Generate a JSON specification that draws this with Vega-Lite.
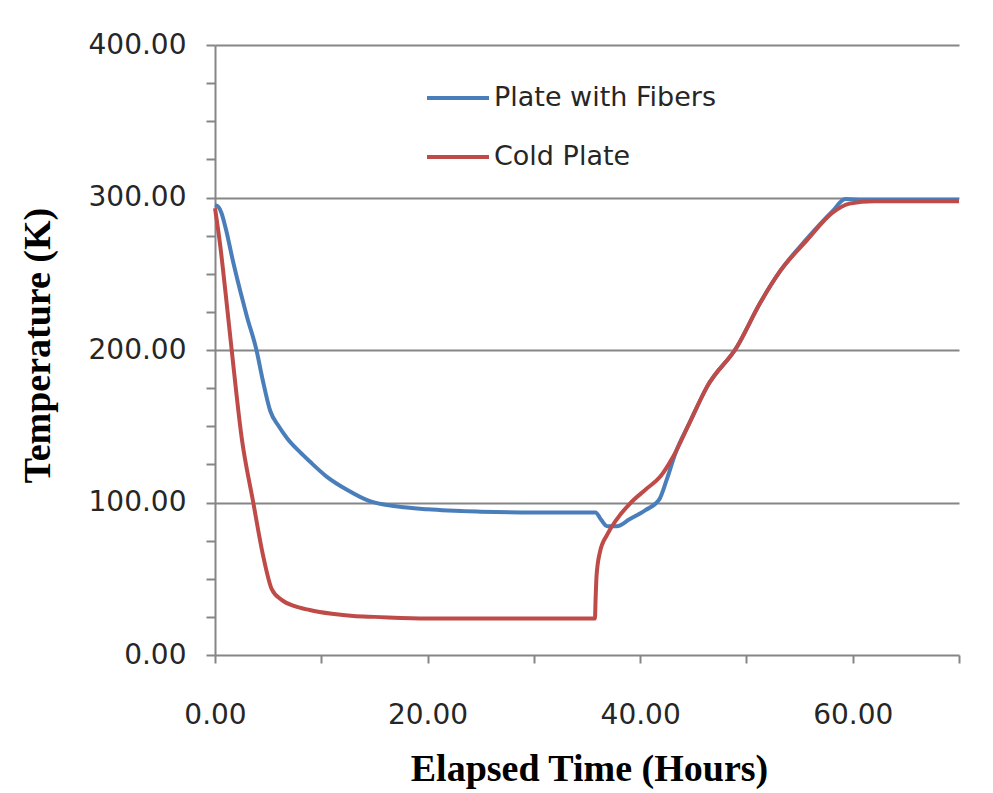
{
  "$schema": "https://vega.github.io/schema/vega-lite/v6.json",
  "width": 744,
  "height": 610,
  "autosize": {"type": "none"},
  "padding": {"left": 215, "top": 45, "right": 34, "bottom": 138},
  "background": "white",
  "data": {
    "values": [
      {"series": "Plate with Fibers", "t": 0, "temp": 295},
      {"series": "Plate with Fibers", "t": 0.3, "temp": 294},
      {"series": "Plate with Fibers", "t": 0.6, "temp": 290},
      {"series": "Plate with Fibers", "t": 1.0, "temp": 280},
      {"series": "Plate with Fibers", "t": 1.7, "temp": 258},
      {"series": "Plate with Fibers", "t": 2.4, "temp": 238},
      {"series": "Plate with Fibers", "t": 3.0, "temp": 222},
      {"series": "Plate with Fibers", "t": 3.9, "temp": 200},
      {"series": "Plate with Fibers", "t": 4.5, "temp": 180},
      {"series": "Plate with Fibers", "t": 5.2, "temp": 160},
      {"series": "Plate with Fibers", "t": 6.0, "temp": 150},
      {"series": "Plate with Fibers", "t": 6.8, "temp": 142},
      {"series": "Plate with Fibers", "t": 8.0, "temp": 133},
      {"series": "Plate with Fibers", "t": 8.9, "temp": 127},
      {"series": "Plate with Fibers", "t": 10.5, "temp": 117},
      {"series": "Plate with Fibers", "t": 12.5, "temp": 108},
      {"series": "Plate with Fibers", "t": 14.5, "temp": 101},
      {"series": "Plate with Fibers", "t": 17, "temp": 97.5},
      {"series": "Plate with Fibers", "t": 20, "temp": 95.5},
      {"series": "Plate with Fibers", "t": 25, "temp": 94},
      {"series": "Plate with Fibers", "t": 30, "temp": 93.5},
      {"series": "Plate with Fibers", "t": 35.8, "temp": 93.5},
      {"series": "Plate with Fibers", "t": 36.3, "temp": 89},
      {"series": "Plate with Fibers", "t": 36.9, "temp": 84.5},
      {"series": "Plate with Fibers", "t": 37.8, "temp": 84.5},
      {"series": "Plate with Fibers", "t": 39, "temp": 89},
      {"series": "Plate with Fibers", "t": 40.5, "temp": 95},
      {"series": "Plate with Fibers", "t": 41.8, "temp": 102},
      {"series": "Plate with Fibers", "t": 42.5, "temp": 115},
      {"series": "Plate with Fibers", "t": 43.3, "temp": 132},
      {"series": "Plate with Fibers", "t": 44.7, "temp": 153},
      {"series": "Plate with Fibers", "t": 46.3, "temp": 176},
      {"series": "Plate with Fibers", "t": 49.1, "temp": 202},
      {"series": "Plate with Fibers", "t": 51.3, "temp": 231},
      {"series": "Plate with Fibers", "t": 53.2, "temp": 252},
      {"series": "Plate with Fibers", "t": 55.7, "temp": 273},
      {"series": "Plate with Fibers", "t": 58.1, "temp": 291},
      {"series": "Plate with Fibers", "t": 59.3, "temp": 299},
      {"series": "Plate with Fibers", "t": 61, "temp": 298.5},
      {"series": "Plate with Fibers", "t": 70, "temp": 298.5},
      {"series": "Cold Plate", "t": 0, "temp": 293},
      {"series": "Cold Plate", "t": 0.5, "temp": 268},
      {"series": "Cold Plate", "t": 1.0, "temp": 237},
      {"series": "Cold Plate", "t": 1.57, "temp": 200},
      {"series": "Cold Plate", "t": 2.5, "temp": 143},
      {"series": "Cold Plate", "t": 3.6, "temp": 100},
      {"series": "Cold Plate", "t": 4.5, "temp": 66},
      {"series": "Cold Plate", "t": 5.35, "temp": 43},
      {"series": "Cold Plate", "t": 6.3, "temp": 36},
      {"series": "Cold Plate", "t": 7.5, "temp": 32},
      {"series": "Cold Plate", "t": 8.9, "temp": 29.5},
      {"series": "Cold Plate", "t": 11, "temp": 27},
      {"series": "Cold Plate", "t": 13, "temp": 25.5},
      {"series": "Cold Plate", "t": 15, "temp": 25},
      {"series": "Cold Plate", "t": 20, "temp": 24},
      {"series": "Cold Plate", "t": 27, "temp": 24},
      {"series": "Cold Plate", "t": 35.75, "temp": 24},
      {"series": "Cold Plate", "t": 35.8, "temp": 35},
      {"series": "Cold Plate", "t": 35.9, "temp": 52},
      {"series": "Cold Plate", "t": 36.2, "temp": 67},
      {"series": "Cold Plate", "t": 36.9, "temp": 79},
      {"series": "Cold Plate", "t": 37.8, "temp": 89},
      {"series": "Cold Plate", "t": 39, "temp": 99},
      {"series": "Cold Plate", "t": 40.6, "temp": 109},
      {"series": "Cold Plate", "t": 41.9, "temp": 117},
      {"series": "Cold Plate", "t": 43.1, "temp": 130},
      {"series": "Cold Plate", "t": 44.7, "temp": 153},
      {"series": "Cold Plate", "t": 46.3, "temp": 176},
      {"series": "Cold Plate", "t": 49.1, "temp": 202},
      {"series": "Cold Plate", "t": 51.3, "temp": 231},
      {"series": "Cold Plate", "t": 53.2, "temp": 252},
      {"series": "Cold Plate", "t": 55.7, "temp": 272},
      {"series": "Cold Plate", "t": 58.1, "temp": 290},
      {"series": "Cold Plate", "t": 59.7, "temp": 296},
      {"series": "Cold Plate", "t": 62, "temp": 297.5},
      {"series": "Cold Plate", "t": 70, "temp": 297.5}
    ]
  },
  "encoding": {
    "x": {
      "field": "t",
      "type": "quantitative",
      "scale": {"domain": [0, 70], "nice": false, "zero": false},
      "axis": {
        "title": "Elapsed Time (Hours)",
        "values": [0, 10, 20, 30, 40, 50, 60, 70],
        "labelExpr": "datum.value % 20 == 0 ? format(datum.value, '.2f') : ''",
        "grid": false,
        "domainColor": "#868686",
        "domainWidth": 2,
        "tickColor": "#868686",
        "tickWidth": 2,
        "tickSize": 8,
        "labelPadding": 38,
        "labelFont": "DejaVu Sans",
        "labelFontSize": 28,
        "labelColor": "#262626",
        "labelFlush": false,
        "labelOverlap": false,
        "titleFont": "Liberation Serif",
        "titleFontWeight": "bold",
        "titleFontSize": 38,
        "titleColor": "#000000",
        "titleX": 374,
        "titleY": 125,
        "titleAlign": "center",
        "titleBaseline": "alphabetic"
      }
    },
    "y": {
      "field": "temp",
      "type": "quantitative",
      "scale": {"domain": [0, 400], "nice": false},
      "axis": {
        "title": "Temperature (K)",
        "values": [0, 25, 50, 75, 100, 125, 150, 175, 200, 225, 250, 275, 300, 325, 350, 375, 400],
        "labelExpr": "datum.value % 100 == 0 ? format(datum.value, '.2f') : ''",
        "grid": true,
        "gridColor": "#868686",
        "gridWidth": 2,
        "gridOpacity": {"condition": {"test": "datum.value % 100 != 0 || datum.value == 0", "value": 0}, "value": 1},
        "domainColor": "#868686",
        "domainWidth": 2,
        "tickColor": "#868686",
        "tickWidth": 2,
        "tickSize": 9,
        "labelPadding": 20,
        "labelFont": "DejaVu Sans",
        "labelFontSize": 28,
        "labelColor": "#262626",
        "labelOverlap": false,
        "labelFlush": false,
        "titleFont": "Liberation Serif",
        "titleFontWeight": "bold",
        "titleFontSize": 38,
        "titleColor": "#000000",
        "titleAngle": 270,
        "titleX": -177,
        "titleY": 300,
        "titleAlign": "center",
        "titleBaseline": "middle"
      }
    },
    "color": {
      "field": "series",
      "type": "nominal",
      "scale": {"domain": ["Plate with Fibers", "Cold Plate"], "range": ["#4A7EBB", "#BE4B48"]},
      "legend": {
        "title": null,
        "orient": "none",
        "legendX": 210,
        "legendY": 20,
        "symbolType": "stroke",
        "symbolSize": 3844,
        "symbolStrokeWidth": 4,
        "labelFont": "DejaVu Sans",
        "labelFontSize": 27,
        "labelColor": "#262626",
        "labelLimit": 0,
        "labelOffset": 3,
        "rowPadding": 13
      }
    }
  },
  "layer": [
    {
      "transform": [{"filter": "datum.series == 'Plate with Fibers'"}],
      "mark": {"type": "line", "strokeWidth": 4, "interpolate": "monotone"}
    },
    {
      "transform": [{"filter": "datum.series == 'Cold Plate'"}],
      "mark": {"type": "line", "strokeWidth": 4, "interpolate": "monotone"}
    }
  ],
  "config": {
    "view": {"stroke": null}
  }
}
